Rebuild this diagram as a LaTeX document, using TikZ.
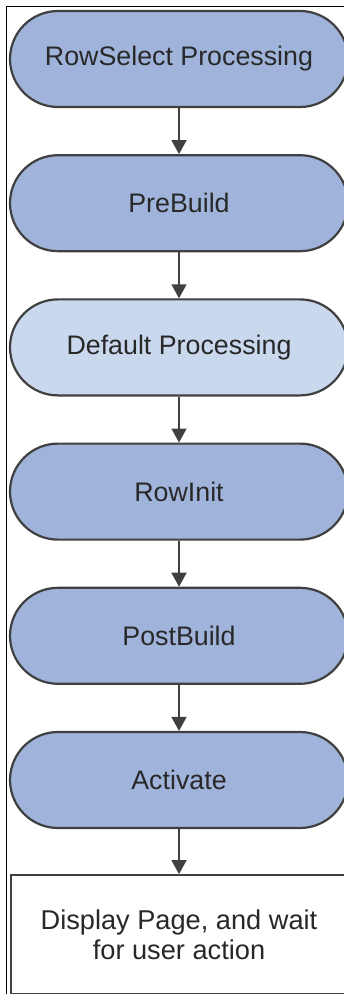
\documentclass[tikz,border=0pt]{standalone}
\usepackage{fontspec}
\setmainfont{Liberation Sans}
\usetikzlibrary{positioning, arrows.meta}
\definecolor{stepblue}{RGB}{160,180,219}
\definecolor{steplight}{RGB}{202,216,238}
\definecolor{edgegray}{RGB}{64,64,64}
\definecolor{textgray}{RGB}{40,40,40}
\tikzset{
>={Triangle[width=7.5pt,length=7pt]}, % filled arrow heads
node distance=23pt, % gap between two boxes
event/.style={draw=edgegray, line width=1.1pt, fill=stepblue, rounded corners=24pt, minimum width=169pt, minimum height=48pt, text=textgray, font=\fontsize{13.4}{15}\selectfont}, % stadium for each event
page/.style={draw=edgegray, line width=1.1pt, fill=white, minimum width=168pt, minimum height=59.5pt, align=center, text=textgray, font=\fontsize{13.6}{15}\selectfont}, % final page box
}

\begin{document}
\begin{tikzpicture}
    \useasboundingbox (0,0) rectangle (171.5pt,-497pt);
    \draw[line width=0.5pt] (3pt,-3.5pt) rectangle (200pt,-520pt);
    \node[event] (rsel) at (89.5pt,-29.5pt) {RowSelect Processing};
    \node[event, below=of rsel] (pre) {PreBuild};
    \node[event, fill=steplight, below=of pre] (dflt) {Default Processing};
    \node[event, below=of dflt] (init) {RowInit};
    \node[event, below=of init] (post) {PostBuild};
    \node[event, below=of post] (act) {Activate};
    \node[page, below=22.5pt of act] (disp) {Display Page, and wait\\for user action};
    \draw[->, line width=0.8pt, edgegray]
    (rsel) edge (pre)
    (pre) edge (dflt)
    (dflt) edge (init)
    (init) edge (post)
    (post) edge (act)
    (act) edge (disp);
  \end{tikzpicture}
\end{document}
